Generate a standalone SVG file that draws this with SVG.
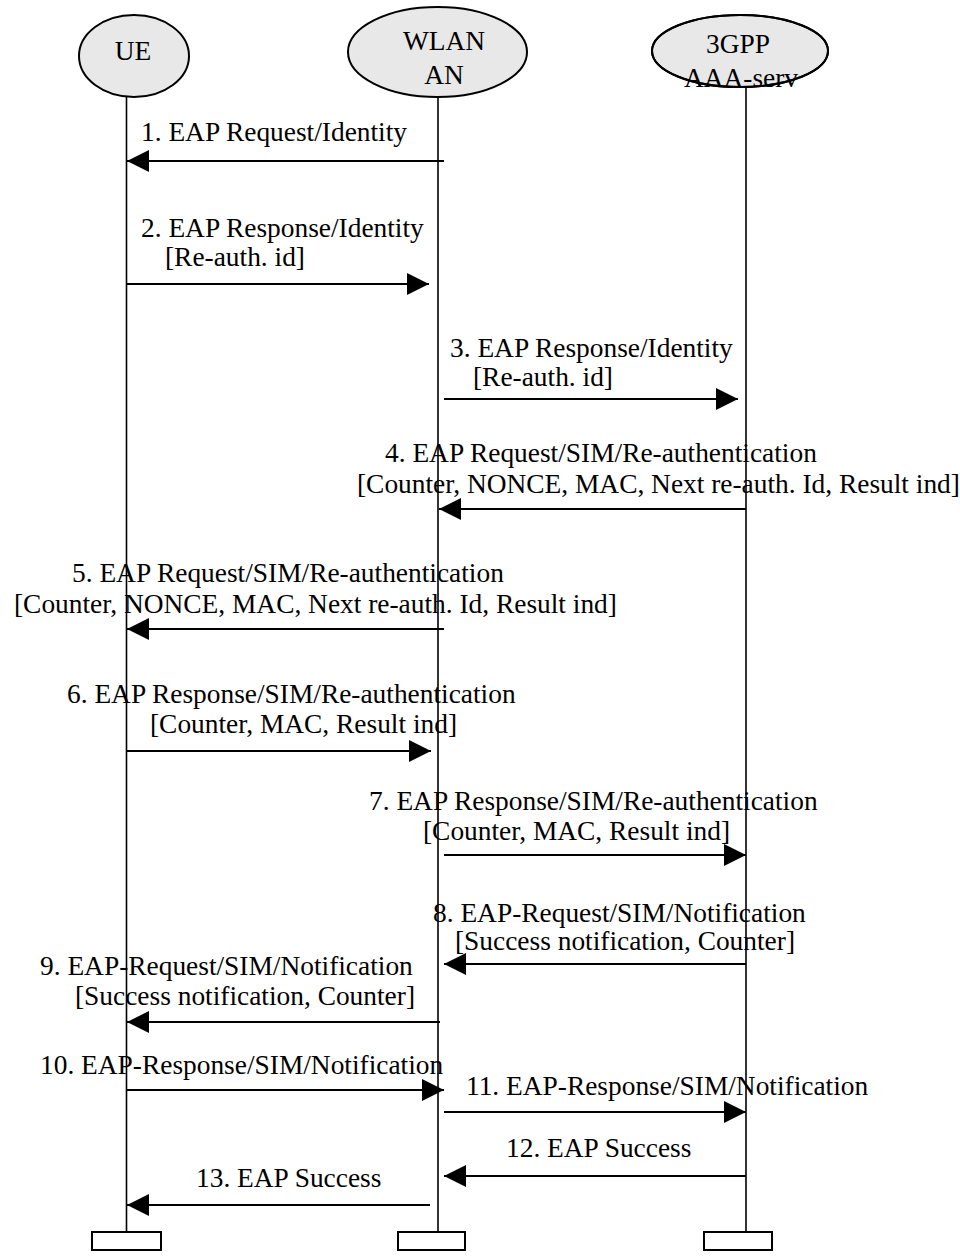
<svg xmlns="http://www.w3.org/2000/svg" width="960" height="1256" viewBox="0 0 960 1256">
<style>
text{font-family:"Liberation Serif","Times New Roman",serif;font-size:27.4px;fill:#000}
.node{fill:#e8e8e8;stroke:#000;stroke-width:2}
.life{stroke:#000;stroke-width:1.6;fill:none}
.end{fill:#fff;stroke:#000;stroke-width:2}
.msg{stroke:#000;stroke-width:2;fill:none;marker-end:url(#ah)}
.c{text-anchor:middle}
</style>
<defs>
<marker id="ah" markerUnits="userSpaceOnUse" markerWidth="22" markerHeight="22" refX="22" refY="11" orient="auto">
<path d="M0,0 L22,11 L0,22 z" fill="#000"/>
</marker>
</defs>
<g id="ue">
<line class="life" x1="126.5" y1="97" x2="126.5" y2="1232"/>
<ellipse class="node" cx="134" cy="56" rx="55" ry="41"/>
<text class="c" x="133" y="60">UE</text>
<rect class="end" x="92" y="1232" width="69" height="18"/>
</g>
<g id="wlan">
<line class="life" x1="438" y1="97" x2="438" y2="1232"/>
<ellipse class="node" cx="437.5" cy="52" rx="89.5" ry="45"/>
<text class="c" x="444" y="50">WLAN</text>
<text class="c" x="444" y="84">AN</text>
<rect class="end" x="398" y="1232" width="67" height="18"/>
</g>
<g id="aaa">
<line class="life" x1="746" y1="87" x2="746" y2="1232"/>
<ellipse class="node" cx="740" cy="51" rx="88" ry="36"/>
<text class="c" x="738" y="53">3GPP</text>
<text class="c" x="741" y="87">AAA-serv</text>
<ellipse cx="740" cy="51" rx="88" ry="36" fill="none" stroke="#000" stroke-width="2"/>
<rect class="end" x="704" y="1232" width="68" height="18"/>
</g>
<g id="connectors">
<line class="msg" x1="444" y1="161" x2="127" y2="161"/>
<line class="msg" x1="126" y1="284" x2="429" y2="284"/>
<line class="msg" x1="444" y1="399" x2="738" y2="399"/>
<line class="msg" x1="746" y1="509" x2="439" y2="509"/>
<line class="msg" x1="444" y1="629" x2="127" y2="629"/>
<line class="msg" x1="126" y1="751" x2="431" y2="751"/>
<line class="msg" x1="444" y1="855" x2="746" y2="855"/>
<line class="msg" x1="746" y1="964" x2="444" y2="964"/>
<line class="msg" x1="440" y1="1022" x2="127" y2="1022"/>
<line class="msg" x1="126" y1="1090" x2="444" y2="1090"/>
<line class="msg" x1="444" y1="1112" x2="746" y2="1112"/>
<line class="msg" x1="746" y1="1176" x2="444" y2="1176"/>
<line class="msg" x1="430" y1="1205" x2="127" y2="1205"/>
</g>
<g id="labels">
<text x="141" y="141">1. EAP Request/Identity</text>
<text x="141" y="237">2. EAP Response/Identity</text>
<text x="165" y="266">[Re-auth. id]</text>
<text x="450" y="357">3. EAP Response/Identity</text>
<text x="473" y="386">[Re-auth. id]</text>
<text x="385" y="462">4. EAP Request/SIM/Re-authentication</text>
<text x="357" y="493">[Counter, NONCE, MAC, Next re-auth. Id, Result ind]</text>
<text x="72" y="582">5. EAP Request/SIM/Re-authentication</text>
<text x="14" y="613">[Counter, NONCE, MAC, Next re-auth. Id, Result ind]</text>
<text x="67" y="703">6. EAP Response/SIM/Re-authentication</text>
<text x="150" y="733">[Counter, MAC, Result ind]</text>
<text x="369" y="810">7. EAP Response/SIM/Re-authentication</text>
<text x="423" y="840">[Counter, MAC, Result ind]</text>
<text x="433" y="922">8. EAP-Request/SIM/Notification</text>
<text x="455" y="950">[Success notification, Counter]</text>
<text x="40" y="975">9. EAP-Request/SIM/Notification</text>
<text x="75" y="1005">[Success notification, Counter]</text>
<text x="40" y="1074">10. EAP-Response/SIM/Notification</text>
<text x="466" y="1095">11. EAP-Response/SIM/Notification</text>
<text x="506" y="1157">12. EAP Success</text>
<text x="196" y="1187">13. EAP Success</text>
</g>
</svg>
